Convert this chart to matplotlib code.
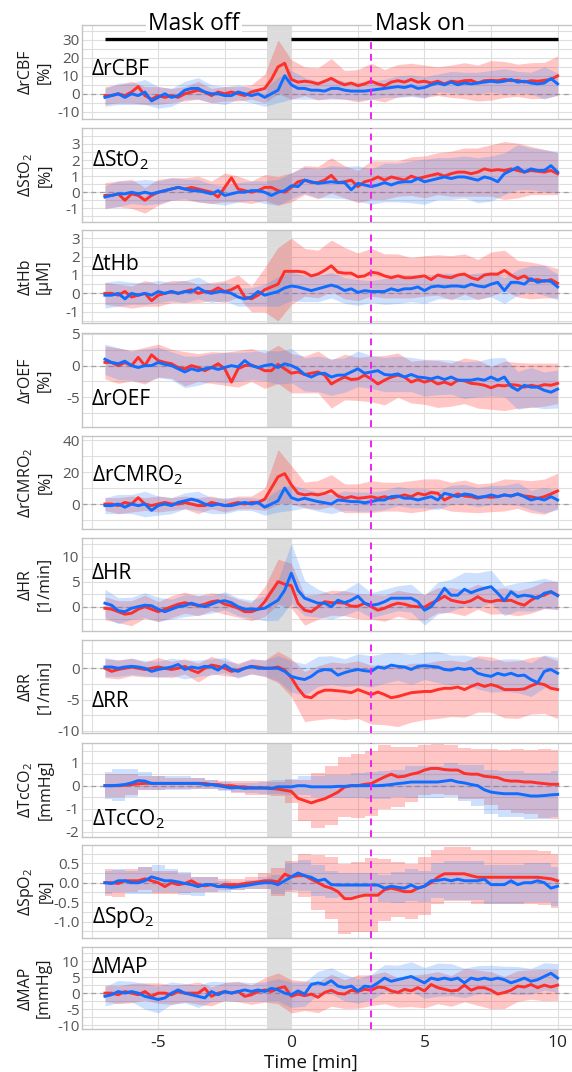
import numpy as np
import matplotlib.pyplot as plt
from matplotlib.lines import Line2D
from matplotlib.transforms import blended_transform_factory
from matplotlib.ticker import MultipleLocator, FixedLocator, FormatStrFormatter

plt.rcParams['font.family'] = ['Open Sans', 'DejaVu Sans']
plt.rcParams['mathtext.default'] = 'regular'
plt.rcParams['axes.unicode_minus'] = False

W, H = 572, 1072

# time grid (min): means every 0.25 min, spread every 0.5 min
t = np.arange(-7, 10.001, 0.25)
t_sd = np.arange(-7, 10.001, 0.5)

# ---- means (red = group 1, blue = group 2) ----
rcbf_red = [-1, -1, 0, -1, 1, 4, -1, -3, -1, -2, -1, -2, 0, 1, 2, 1, -1, 1, 0, 1, 0, -1, 1, 2, 3, 8, 15, 17, 8,
            6.5, 7, 6.5, 5.5, 7, 8.6, 6.5, 5, 6, 4.5, 5.5, 7, 5.5, 4.5, 6.5, 7.3, 6.5, 8, 6.5, 7,
            6, 7, 5.5, 7, 6.5, 7.3, 7.5, 6, 7.3, 7.5, 7.3, 8, 7.3, 7.5, 6.5, 7.3, 7, 7.5, 8, 10]
rcbf_blue = [-2, -1, 0, -2, 0, -1, 1, -4, -2, 0, -2, -1, 2, 3, 3, 1, 0, 0, -1, -1, 1, 0, -1, 0, -2, 0, 2, 10, 5,
             3, 3, 2, 2, 1.5, 3, 3, 2, 1.5, 1.5, 1.5, 2, 2.5, 3, 3.5, 4, 3.5, 4.5, 3, 3.5,
             5, 6, 5, 6.5, 5, 6, 5.5, 6, 6.5, 7, 6.5, 7, 8, 6.5, 7, 6, 5.5, 6, 8.5, 5.5]

sto2_red = [-0.2, -0.2, -0.1, -0.5, -0.1, -0.2, -0.5, -0.2, 0, 0.1, 0.2, 0.3, 0.2, 0.3, 0.2, 0.1, 0, -0.3, 0.3, 0.9,
            0.2, 0.1, 0, 0.1, 0.3, 0.3, 0.1, 0, 0.3,
            0.65, 0.75, 0.6, 0.6, 0.75, 1.05, 0.6, 0.65, 0.75, 0.35, 0.65, 0.75, 0.95, 0.75, 0.95, 0.85, 0.75, 1.0,
            0.85, 0.95, 1.05, 1.15, 1.0, 1.15, 1.25, 1.25, 1.15, 1.25, 1.45, 1.35, 1.4, 1.35, 1.45, 1.35, 1.25,
            1.35, 1.3, 1.25, 1.35, 1.15]
sto2_blue = [-0.3, -0.2, -0.1, -0.1, 0, -0.1, 0, -0.1, 0, 0.1, 0.2, 0.3, 0.2, 0.1, 0.1, 0, -0.1, 0.1, -0.2, -0.1,
             0, 0, 0.1, 0.1, 0, -0.2, 0, 0.1, 0.4,
             0.35, 0.75, 0.65, 0.55, 0.6, 0.65, 0.6, 0.6, 0.15, 0.55, 0.45, 0.35, 0.45, 0.6, 0.45, 0.6, 0.65, 0.65,
             0.85, 0.65, 0.75, 0.85, 0.95, 0.85, 0.95, 0.95, 0.85, 0.75, 0.95, 0.85, 0.65, 1.15, 1.35, 1.55, 1.25,
             1.45, 1.35, 1.35, 1.65, 1.25]

thb_red = [0, 0, -0.1, 0.1, -0.2, -0.1, 0, -0.4, -0.1, 0, 0.1, 0, 0.1, 0.2, 0, 0.1, 0.1, 0.3, 0.1, 0.2,
           0.4, -0.2, -0.3, -0.1, 0.2, 0.35, 0.5, 1.2, 1.2,
           1.2, 1.15, 0.95, 1.05, 1.25, 1.5, 1.15, 1.1, 1.1, 0.9, 0.95, 1.15, 1.1, 0.95, 0.85, 0.95, 0.85, 0.85,
           0.9, 0.95, 0.75, 1.0, 0.9, 0.85, 1.0, 1.05, 0.85, 0.75, 1.0, 1.05, 1.05, 1.25, 1.0, 0.8, 0.95,
           0.7, 0.75, 0.65, 0.75, 0.55]
thb_blue = [-0.1, -0.1, 0, -0.3, 0, -0.1, 0, -0.1, 0.1, 0, 0.1, 0, 0.1, 0.1, 0.3, 0.1, 0, 0.1, 0.1, 0,
            -0.2, -0.3, -0.2, 0.1, -0.1, 0, 0.1, 0.3, 0.4,
            0.35, 0.25, 0.15, 0.25, 0.35, 0.45, 0.35, 0.15, 0.25, 0.05, 0.15, 0.1, 0.1, 0.1, 0.25, 0.15, 0.25,
            0.25, 0.35, 0.15, 0.35, 0.4, 0.35, 0.4, 0.4, 0.35, 0.5, 0.4, 0.35, 0.5, 0.6, 0.15, 0.6, 0.6, 0.5,
            0.8, 0.6, 0.7, 0.65, 0.35]

roef_red = [0.5, 0.5, 0, 0.5, 0, 1.3, 0, 1.7, 0.8, 0.5, 0.3, -0.3, -0.5, 0, -0.3, -0.8, -0.3, 0.3, -0.5, -2.6,
            -0.5, 0, 0.1, -0.3, -0.8, -0.8, 0.2, -0.5, -1.2,
            -1, -1.4, -1.2, -1, -1.5, -2.9, -2.3, -1.8, -2.2, -2.1, -1.5, -2.1, -2.9, -2.3, -1.8, -1.5, -1.8,
            -2.6, -2.2, -2.6, -2.3, -2.9, -2.6, -3, -2.3, -2.4, -2.8, -2.9, -3.1, -3.5, -3.1, -3.2, -3, -3.1,
            -3.4, -3.1, -3.3, -3, -3.1, -2.8]
roef_blue = [1, 0.5, 0.3, 0.7, 0, -0.3, 0, 0, 0.5, 0.2, 0, -0.5, -1, -0.5, -0.8, -0.5, -0.3, -0.6, -0.3, 0,
             -0.2, 0.8, 0, -0.3, 0, 0.2, -0.3, 0.3, 0,
             -0.5, -1.4, -1.8, -1.3, -1.2, -1.8, -1.5, -1.5, -1, -0.5, -1.2, -1, -0.8, -1.4, -1.5, -1.3, -1.8,
             -1.4, -1.8, -1.9, -2.1, -1.8, -2.2, -1.8, -2.3, -2.3, -2.3, -2.1, -2.3, -1.8, -2.3, -1.8, -3.3,
             -3.9, -3.1, -3.4, -3.4, -3.9, -4.2, -3.7]

rcmro2_red = [0, 0, -1, 1, 0, 4, 0, -1, 0, 1, 0, 0, 1, 0, -1, -1, 1, 0, -1, 0, 1, 0, 1, 1, 3, 10, 17, 19, 12,
              6.7, 5.7, 6.3, 5.7, 6.7, 8.4, 5, 3.6, 4.6, 3.6, 4, 4.6, 3.6, 4.6, 3.6, 4.6, 5.7, 4.6, 6.7, 5.7,
              7.2, 6.7, 2.5, 4.6, 6.3, 5, 4.6, 3.6, 4.6, 4.2, 4.6, 5.7, 5, 6.3, 5, 4.6, 3.6, 4.6, 6.3, 8.2]
rcmro2_blue = [-1, -1, 0, -2, 0, -1, 0, -4, -1, 0, -1, 1, 2, 3, 2, 0, -1, 0, -1, -1, 0, 1, 0, 1, -2, 0, 2, 10, 4,
               2.5, 3.6, 2.5, 1.5, 0.8, 0, 2.5, 2.1, 1.5, 1.5, 0.8, 1.5, 2.5, 2.5, 4.6, 5, 3.6, 3.6, 2.5, 3.6,
               4.6, 2.5, 6.7, 5.7, 4.6, 6.3, 5.7, 4.2, 4.6, 5.7, 4.6, 5.7, 5, 6.3, 4.6, 2.5, 3.6, 2.5, 4.6, 2.5]

hr_red = [-0.3, -0.5, -1, -1.5, -1.3, -0.5, 0, -0.5, -1, -0.5, 0, 0.5, 0.8, 0.5, 0.2, 0.5, 1, 1.2, 0.5, 0.2,
          -0.3, -1, -1, -0.5, 1, 3, 5, 4.5, 4.2,
          0.7, -0.7, -1, 0, 1, 0.8, 0.8, 0.7, 0.1, 0.1, 0.7, 0, -0.7, -0.3, 0.3, 0.7, 0.5, 0.1, 0, -0.1,
          0.7, 1.3, 2.1, 1.3, 1, 0.8, 1.2, 2, 1.2, 1, 1.3, 1.2, 1.3, 0.7, 0.3, 1.3, 2, 2.3, 3, 2.3]
hr_blue = [0.7, 0.3, -0.8, -1, -0.3, 0, 0.3, 0.2, -0.5, -1, -0.5, 0, 0.2, 0.7, 0.3, 0, 0.5, 1, 1.2, 0.8,
           0, -0.5, -0.5, -0.5, -0.3, 0.5, 1.3, 3.3, 6.7,
           3.3, 1.7, 1.2, 0.7, 0.7, 0, 1.3, 0.8, 1.3, 2.1, 0.7, 0.3, 0.5, 1, 1.7, 1.7, 1.7, 1.7, 1, -0.7,
           0, 1.7, 3.7, 2.3, 2.3, 3.5, 2.8, 3.3, 3.7, 4, 2.7, 1.2, 3, 2, 2.3, 2.1, 1.7, 2.7, 3, 2.2]

rr_red = [0, -0.5, -0.2, 0, 0.2, 0, -0.2, 0, 0.2, 0, -0.2, 0, 0.3, -0.3, -0.7, 0, 0.5, 0.3, 0, -0.5,
          -0.3, 0, 0.3, 0.2, 0, 0, 0.2, -0.3, -1.5,
          -3.2, -4.5, -4.7, -3.9, -3.5, -3.5, -3.6, -3.7, -3.9, -3.4, -3.8, -4.2, -3.8, -4.2, -4.7, -4.5, -4.2,
          -3.9, -3.8, -3.7, -3.7, -3.4, -3.2, -3.2, -3, -3.4, -2.9, -2.5, -2.9, -2.6, -2.9, -3.4, -3.4, -3.4,
          -3.3, -2.8, -2.4, -2.6, -3.2, -3.4]
rr_blue = [0.2, 0.2, 0, 0.2, 0.3, 0.2, 0, -0.5, -0.2, 0, 0.2, 0.6, -0.2, 0.2, 0, 0.3, 0.2, -0.3, 0.5, -0.2,
           -0.5, 0, 0.3, 0, 0, 0, 0, -0.5, -1.3,
           -1.6, -1.8, -1.3, -0.5, -0.2, -0.3, -1.1, -0.7, -0.4, -0.2, -0.4, -0.5, 0.2, 0, 0.5, 0.3, 0.2, -0.2,
           0.3, 0.4, 0.3, 0.2, -0.2, -0.3, 0, -0.2, 0, -0.8, -1.1, -1.3, -0.8, -1.1, -0.8, -1.2, -1.1, -1.8,
           -2.3, -0.5, -0.2, -0.8]

tcco2_red = [0, 0, 0, 0.02, 0.05, 0.08, 0.1, 0.1, 0.1, 0.1, 0.1, 0.1, 0.1, 0.1, 0.1, 0.1, 0.05, 0.05, 0, 0,
             -0.05, -0.05, -0.1, -0.1, -0.1, -0.12, -0.15, -0.2, -0.25,
             -0.55, -0.65, -0.75, -0.65, -0.57, -0.43, -0.28, -0.06, 0, 0, 0.06, 0.09, 0.24, 0.38, 0.5, 0.38,
             0.41, 0.5, 0.56, 0.68, 0.75, 0.75, 0.7, 0.68, 0.68, 0.53, 0.5, 0.5, 0.41, 0.38, 0.35, 0.24, 0.2,
             0.2, 0.16, 0.16, 0.12, 0.09, 0.06, 0.06]
tcco2_blue = [0, 0, 0.02, 0.05, 0.12, 0.22, 0.2, 0.1, 0.1, 0.1, 0.1, 0.1, 0.1, 0.1, 0.1, 0.05, 0.05, 0, -0.05,
              -0.1, -0.08, -0.12, -0.1, -0.1, -0.1, -0.12, -0.05, -0.05, -0.05,
              0, 0, -0.05, -0.05, -0.05, -0.05, -0.03, -0.03, 0, 0, 0, 0, 0, 0.02, 0.05, 0.09, 0.12, 0.16, 0.16,
              0.16, 0.16, 0.16, 0.2, 0.24, 0.16, 0.12, 0.05, 0, -0.18, -0.28, -0.32, -0.35, -0.35, -0.35, -0.4,
              -0.45, -0.45, -0.43, -0.4, -0.38]

spo2_red = [0, 0, -0.02, 0.05, 0.05, 0.05, 0.1, 0.05, 0, -0.1, 0, -0.05, -0.02, 0.05, -0.05, -0.08, -0.05, -0.1,
            -0.05, -0.05, -0.05, -0.02, 0, 0.02, 0.05, 0.05, 0.02, 0.22, 0.15,
            0.18, 0.18, 0.09, 0, -0.09, -0.14, -0.23, -0.41, -0.41, -0.36, -0.32, -0.32, -0.32, -0.18, -0.14,
            -0.18, -0.23, -0.23, -0.14, -0.09, 0, 0.14, 0.23, 0.23, 0.23, 0.23, 0.18, 0.14, 0.14, 0.14, 0.14,
            0.14, 0.14, 0.14, 0.14, 0.14, 0.14, 0.12, 0.1, 0.05]
spo2_blue = [0, -0.02, 0.05, 0.05, 0, 0, 0.05, 0.15, 0.1, 0.05, 0.05, 0.02, -0.02, -0.05, -0.1, -0.05, -0.05,
             -0.1, -0.1, -0.12, -0.1, -0.08, -0.05, -0.02, 0, 0, -0.05, 0.05, 0.15,
             0.25, 0.18, 0.14, 0.05, 0.09, -0.05, -0.06, -0.06, -0.06, -0.06, -0.06, -0.06, -0.06, -0.14, -0.09,
             -0.12, -0.14, -0.06, -0.14, -0.09, 0.05, 0.06, 0.09, 0.05, 0.09, 0.05, 0.05, 0.05, 0.09, -0.05,
             -0.05, -0.05, 0.05, -0.05, 0, 0, 0.05, 0, -0.14, -0.09]

map_red = [0, 0, -0.5, 0.5, 0, -0.5, 0.5, -1, 0, 0, -0.5, 0.5, 0, 0, 0, 1.5, -1, 0, 0.5, 0, 0.5, -1, -0.5, 0.5,
           1, 0.5, 1.5, 2, -1,
           -0.3, -0.8, -0.3, -1.3, 0.2, 0.9, -0.1, -0.3, 0.9, 0.5, 1.2, 0.9, 1.9, 1.7, 0.7, 0.2, 1.2, 0.7, 1.7,
           0.7, 2.7, 1.7, 1.2, 0.7, 0.9, 2.5, 0.9, 1.7, 1.7, 0.9, -0.3, 0.2, 0.9, 2.2, 1.9, 2.7, 1.7, 2.5,
           1.9, 2.5]
map_blue = [-1, -0.5, 0.5, 0, 0.5, 0, -1, -1.5, -2, -1.5, 0, 1, 0, -0.5, -1, -1.5, 0.5, -0.5, 0.5, 0, 0.5, 1,
            0.5, 1, 0.5, 1.5, 1, 0, -0.5,
            0.7, -0.3, 2.7, 3.2, 2.7, 3.9, 2.2, 1.7, 2.2, 0.7, 2.2, 1.9, 3.2, 4.7, 3.7, 4.2, 4.7, 5.2, 4.2, 3.2,
            4.7, 4.2, 4.7, 4.2, 4.7, 3.2, 4.7, 4.2, 4.7, 4.2, 4.7, 4.2, 3.2, 3.9, 4.7, 3.7, 4.2, 5.2, 6.2, 4.7]

# ---- spread (half width of band), every 0.5 min ----
rcbf_red_sd = [5, 5, 6, 5, 5, 4, 4, 5, 4, 4, 4, 4, 8, 15, 11, 8, 9, 11, 8, 9, 10, 9, 9, 9, 9, 8, 9, 10, 10,
               11, 10, 9, 10, 10, 11]
rcbf_blue_sd = [5, 6, 6, 7, 6, 5, 5, 6, 5, 5, 4, 4, 5, 7, 8, 6, 5, 6, 5, 5, 5, 5, 6, 6, 6, 5, 6, 6, 6, 6, 7, 6,
                6, 9, 6]
sto2_red_sd = [0.8, 0.8, 0.9, 0.8, 0.8, 0.7, 0.7, 0.8, 0.7, 0.9, 0.8, 0.7, 0.8, 0.9, 0.9, 0.9, 1.0, 1.1, 1.0,
               1.0, 1.2, 1.2, 1.1, 1.2, 1.3, 1.3, 1.4, 1.5, 1.5, 1.6, 1.8, 1.7, 1.5, 1.4, 1.3]
sto2_blue_sd = [0.7, 0.8, 0.7, 0.8, 0.7, 0.7, 0.6, 0.7, 0.6, 0.6, 0.6, 0.6, 0.7, 0.8, 0.8, 0.8, 0.9, 1.0, 1.0,
                1.1, 1.1, 1.2, 1.2, 1.3, 1.4, 1.3, 1.3, 1.3, 1.4, 1.4, 1.3, 1.4, 1.3, 1.3, 1.3]
thb_red_sd = [0.6, 0.6, 0.6, 0.7, 0.6, 0.6, 0.6, 0.5, 0.5, 0.6, 0.6, 0.7, 1.2, 2.0, 1.8, 1.3, 1.3, 1.4, 1.4,
              1.3, 1.3, 1.2, 1.2, 1.1, 1.1, 1.1, 1.2, 1.1, 1.1, 1.2, 1.1, 1.0, 1.0, 0.9, 0.8]
thb_blue_sd = [0.7, 0.7, 0.6, 0.6, 0.6, 0.5, 0.6, 0.6, 0.5, 0.5, 0.5, 0.5, 0.6, 0.8, 0.8, 0.7, 0.7, 0.7, 0.7,
               0.7, 0.6, 0.7, 0.7, 0.7, 0.7, 0.7, 0.7, 0.7, 0.7, 0.7, 0.7, 0.7, 0.7, 0.8, 0.7]
roef_red_sd = [2.6, 2.8, 2.4, 2.9, 2.6, 2.3, 2.7, 2.2, 2.5, 2.6, 2.9, 2.6, 2.8, 3.0, 3.1, 2.9, 3.3, 3.8, 3.6,
               3.4, 3.6, 3.9, 3.5, 3.3, 3.5, 3.7, 3.4, 3.6, 3.8, 3.4, 3.9, 3.6, 3.5, 3.4, 3.2]
roef_blue_sd = [2.4, 2.5, 2.3, 2.6, 2.4, 2.2, 2.5, 2.3, 2.2, 2.4, 2.3, 2.2, 2.4, 2.6, 2.7, 2.6, 2.8, 2.9, 2.7,
                2.8, 2.6, 2.7, 2.8, 2.7, 2.9, 2.8, 2.7, 2.9, 2.8, 3.0, 3.1, 3.0, 3.1, 2.9, 3.0]
rcmro2_red_sd = [4, 5, 5, 4, 5, 4, 4, 5, 4, 4, 4, 4, 7, 17, 12, 8, 9, 10, 9, 9, 10, 9, 9, 10, 10, 9, 9, 10, 9,
                 9, 10, 9, 10, 11, 11]
rcmro2_blue_sd = [5, 6, 6, 8, 6, 5, 5, 6, 5, 5, 4, 4, 5, 7, 8, 6, 6, 6, 6, 6, 6, 6, 6, 6, 6, 6, 6, 6, 6, 6, 6,
                  7, 6, 8, 6]
hr_red_sd = [2.3, 2.2, 2.5, 2.3, 2.0, 2.2, 2.1, 2.0, 1.8, 2.0, 1.8, 1.8, 3.0, 4.5, 4.5, 3.0, 2.5, 2.5, 2.5, 2.5,
             2.5, 2.6, 2.6, 2.7, 2.6, 2.5, 2.5, 2.6, 2.5, 2.5, 2.6, 2.5, 2.6, 2.7, 2.8]
hr_blue_sd = [2.8, 2.6, 2.2, 2.5, 2.4, 2.0, 2.2, 2.0, 1.8, 1.8, 1.8, 1.8, 2.5, 4.0, 6.0, 3.5, 2.8, 2.5, 2.5, 2.8,
              2.5, 2.5, 2.5, 2.8, 3.0, 3.2, 3.2, 3.4, 3.5, 3.3, 3.0, 2.8, 3.0, 3.0, 2.8]
rr_red_sd = [1.5, 1.5, 1.4, 1.2, 1.5, 1.3, 1.2, 1.5, 1.4, 1.2, 1.1, 1.2, 1.3, 2.5, 3.0, 4.0, 4.3, 4.5, 4.5, 4.6,
             4.7, 4.8, 4.8, 4.7, 4.5, 4.6, 4.5, 4.4, 4.5, 4.4, 4.5, 4.6, 4.5, 4.6, 4.6]
rr_blue_sd = [1.5, 1.3, 1.3, 1.2, 1.3, 1.4, 1.5, 1.3, 1.3, 1.2, 1.1, 1.2, 1.3, 2.0, 2.5, 2.5, 2.4, 2.3, 2.2, 2.5,
              2.5, 2.4, 2.2, 2.4, 2.2, 2.5, 2.4, 2.3, 2.5, 2.5, 2.6, 2.7, 2.7, 2.6, 2.5]
tcco2_red_sd = [0.5, 0.5, 0.45, 0.3, 0.3, 0.25, 0.25, 0.25, 0.2, 0.2, 0.25, 0.3, 0.3, 0.3, 0.5, 0.9, 1.2, 1.3,
                1.3, 1.4, 1.4, 1.4, 1.3, 1.2, 1.1, 1.1, 1.1, 1.1, 1.1, 1.2, 1.3, 1.4, 1.4, 1.5, 1.5]
tcco2_blue_sd = [0.6, 0.7, 0.6, 0.4, 0.3, 0.3, 0.3, 0.25, 0.2, 0.2, 0.2, 0.2, 0.25, 0.3, 0.35, 0.4, 0.45, 0.5,
                 0.5, 0.55, 0.6, 0.6, 0.6, 0.7, 0.7, 0.7, 0.75, 0.8, 0.9, 0.95, 1.0, 1.0, 1.0, 1.0, 1.0]
spo2_red_sd = [0.35, 0.35, 0.3, 0.3, 0.3, 0.3, 0.25, 0.2, 0.2, 0.15, 0.15, 0.15, 0.2, 0.35, 0.4, 0.55, 0.7, 0.8,
               0.9, 0.9, 0.95, 0.8, 0.7, 0.7, 0.75, 0.7, 0.7, 0.7, 0.7, 0.7, 0.7, 0.7, 0.7, 0.7, 0.7]
spo2_blue_sd = [0.3, 0.3, 0.3, 0.35, 0.35, 0.3, 0.3, 0.25, 0.2, 0.15, 0.1, 0.12, 0.15, 0.25, 0.35, 0.4, 0.4,
                0.35, 0.3, 0.3, 0.3, 0.35, 0.4, 0.4, 0.4, 0.45, 0.5, 0.5, 0.5, 0.5, 0.5, 0.5, 0.5, 0.5, 0.5]
map_red_sd = [2.5, 2.8, 3.0, 2.7, 3.2, 3.0, 2.8, 3.5, 3.0, 2.8, 3.2, 3.0, 3.8, 4.8, 5.2, 4.6, 4.8, 5.0, 4.5, 5.2,
              4.8, 5.0, 4.6, 4.9, 5.3, 5.0, 4.8, 5.2, 5.5, 5.8, 5.0, 4.8, 4.6, 4.9, 4.8]
map_blue_sd = [3.0, 3.5, 3.2, 4.0, 4.2, 3.5, 3.0, 3.5, 3.2, 3.0, 3.0, 2.8, 3.0, 3.5, 4.0, 3.8, 3.6, 4.0, 4.2, 3.8,
               4.0, 4.2, 4.5, 4.6, 4.8, 5.2, 5.0, 4.6, 4.4, 4.5, 4.2, 4.4, 4.0, 4.3, 4.5]

titles = ['ΔrCBF', 'ΔStO$_2$', 'ΔtHb', 'ΔrOEF', 'ΔrCMRO$_2$', 'ΔHR', 'ΔRR', 'ΔTcCO$_2$', 'ΔSpO$_2$', 'ΔMAP']
ylabels = ['ΔrCBF\n[%]', 'ΔStO$_2$\n[%]', 'ΔtHb\n[µM]', 'ΔrOEF\n[%]', 'ΔrCMRO$_2$\n[%]', 'ΔHR\n[1/min]',
           'ΔRR\n[1/min]', 'ΔTcCO$_2$\n[mmHg]', 'ΔSpO$_2$\n[%]', 'ΔMAP\n[mmHg]']
yticks = [[-10, 0, 10, 20, 30], [-1, 0, 1, 2, 3], [-1, 0, 1, 2, 3], [-5, 0, 5], [0, 20, 40], [0, 5, 10],
          [-10, -5, 0], [-2, -1, 0, 1], [-1.0, -0.5, 0.0, 0.5], [-10, -5, 0, 5, 10]]
series = [(rcbf_red, rcbf_blue, rcbf_red_sd, rcbf_blue_sd),
          (sto2_red, sto2_blue, sto2_red_sd, sto2_blue_sd),
          (thb_red, thb_blue, thb_red_sd, thb_blue_sd),
          (roef_red, roef_blue, roef_red_sd, roef_blue_sd),
          (rcmro2_red, rcmro2_blue, rcmro2_red_sd, rcmro2_blue_sd),
          (hr_red, hr_blue, hr_red_sd, hr_blue_sd),
          (rr_red, rr_blue, rr_red_sd, rr_blue_sd),
          (tcco2_red, tcco2_blue, tcco2_red_sd, tcco2_blue_sd),
          (spo2_red, spo2_blue, spo2_red_sd, spo2_blue_sd),
          (map_red, map_blue, map_red_sd, map_blue_sd)]

# layout (pixels from top) and per-panel axis settings
rows_px = [(25, 119.3), (128.3, 221.7), (230, 323.3), (333.3, 426.7), (435.7, 529.3),
           (537.7, 631), (640, 733.3), (742.7, 836.7), (845, 938.3), (946.7, 1029.3)]
ylims = [(-14.2, 38.3), (-1.83, 3.97), (-1.63, 3.45), (-9.64, 5.1), (-15.8, 42.7), (-4.86, 13.8),
         (-10.37, 4.5), (-2.22, 1.87), (-1.43, 0.97), (-11.3, 14.5)]
minor_steps = [5, 0.5, 0.5, 2.5, 10, 2.5, 2.5, 0.5, 0.25, 2.5]
title_base = [75, 166.7, 270, 405, 481.7, 579, 706.7, 825, 922.7, 973.3]
stepped = [False] * 7 + [True, True, False]

RED, BLUE = '#ff2f2a', '#0f6dff'
AX_L, AX_R = 82.3, 572
XLIM = (-7.85, 10.54)

fig = plt.figure(figsize=(W / 100, H / 100), dpi=100)

for i, (top, bot) in enumerate(rows_px):
    ax = fig.add_axes([AX_L / W, 1 - bot / H, (AX_R - AX_L) / W, (bot - top) / H])
    red, blue, red_sd, blue_sd = [np.array(s, dtype=float) for s in series[i]]

    ax.axvspan(-0.9, 0, color='#dcdcdc', lw=0, zorder=0)
    ax.axhline(0, color='#a0a0a0', lw=0.9, ls=(0, (4, 3)), zorder=1)
    # magenta marker at 3 min; in the top panel it stops under the mask bar
    vtop = (bot - 41.5) / (bot - top) if i == 0 else 1
    ax.axvline(3, ymax=vtop, color='#ee22ee', lw=1.4, ls=(0, (3.5, 2.5)), zorder=4)

    step = 'mid' if stepped[i] else None
    ax.fill_between(t_sd, red[::2] - red_sd, red[::2] + red_sd, color=RED, alpha=0.27, lw=0,
                    step=step, zorder=2)
    ax.fill_between(t_sd, blue[::2] - blue_sd, blue[::2] + blue_sd, color='#3a8bff', alpha=0.25, lw=0,
                    step=step, zorder=2)
    ax.plot(t, red, color=RED, lw=2.1, zorder=3, solid_joinstyle='round')
    ax.plot(t, blue, color=BLUE, lw=2.1, zorder=3, solid_joinstyle='round')

    ax.set_xlim(*XLIM)
    ax.set_ylim(*ylims[i])
    ax.xaxis.set_major_locator(FixedLocator([-5, 0, 5, 10]))
    ax.xaxis.set_minor_locator(FixedLocator([-7.5, -2.5, 2.5, 7.5]))
    ax.yaxis.set_major_locator(FixedLocator(yticks[i]))
    ax.yaxis.set_minor_locator(MultipleLocator(minor_steps[i]))
    if i == 8:
        ax.yaxis.set_major_formatter(FormatStrFormatter('%.1f'))
    else:
        ax.yaxis.set_major_formatter(FormatStrFormatter('%g'))
    ax.set_axisbelow(True)
    ax.grid(which='both', color='#dedede', lw=0.8)
    ax.tick_params(which='both', length=0)
    ax.tick_params(axis='y', labelsize=11, labelcolor='#555555', pad=2)
    ax.tick_params(axis='x', labelsize=12.5, labelcolor='#222222', pad=4, labelbottom=(i == 9))
    for side in ['left', 'top', 'bottom']:
        ax.spines[side].set_color('#c4c4c4')
        ax.spines[side].set_linewidth(1.0)
    ax.spines['right'].set_visible(False)

    # y label and inner panel title
    fig.text(35 / W, 1 - (top + bot) / 2 / H, ylabels[i], rotation=90, ha='center', va='center',
             multialignment='center', fontsize=11.5, color='#1a1a1a', linespacing=1.2)
    fig.text(91.7 / W, 1 - title_base[i] / H, titles[i], ha='left', va='baseline', fontsize=15,
             color='black')

    if i == 0:
        # mask off / mask on bars, drawn above the header labels
        tr = blended_transform_factory(ax.transData, fig.transFigure)
        bar_y = 1 - 39.3 / H
        for x0, x1 in [(-7, -0.9), (0, 10)]:
            fig.add_artist(Line2D([x0, x1], [bar_y, bar_y], color='black', lw=2.4, transform=tr,
                                  zorder=5, solid_capstyle='butt'))

fig.text(194 / W, 1 - 30 / H, 'Mask off', ha='center', va='baseline', fontsize=16.5, color='black',
         bbox=dict(fc='white', ec='none', pad=2), zorder=3)
fig.text(420 / W, 1 - 30 / H, 'Mask on', ha='center', va='baseline', fontsize=16.5, color='black',
         bbox=dict(fc='white', ec='none', pad=2), zorder=3)
fig.text(311 / W, 1 - 1068 / H, 'Time [min]', ha='center', va='baseline', fontsize=13.5, color='#111111')

fig.savefig('out.png', dpi=100)
